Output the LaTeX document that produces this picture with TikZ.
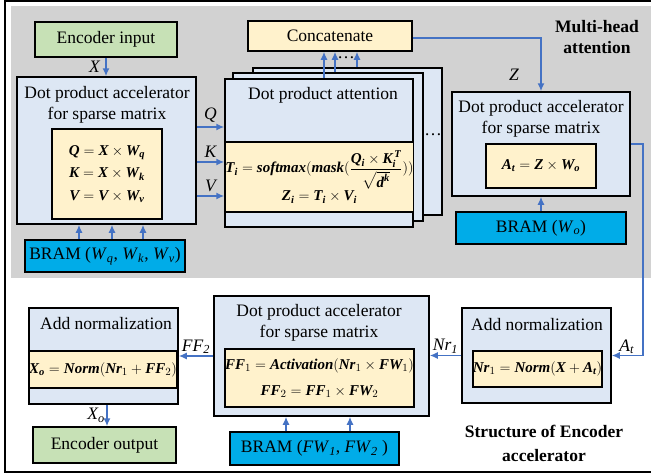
\documentclass[tikz,border=0pt]{standalone}
\usepackage{amsmath}
\usepackage{fontspec}
\setmainfont{Liberation Serif}
\usepackage{tikz}
\usetikzlibrary{arrows.meta,positioning,calc}
\definecolor{headgray}{RGB}{210,210,210}
\definecolor{iogreen}{RGB}{199,225,182}
\definecolor{unitblue}{RGB}{221,231,244}
\definecolor{eqyellow}{RGB}{255,242,204}
\definecolor{bramblue}{RGB}{0,172,232}
\definecolor{linkblue}{RGB}{68,114,196}
\newcommand{\txtsize}{\fontsize{17.5}{21}\selectfont}
\newcommand{\eqsize}{\fontsize{15}{22.5}\selectfont}
\newcommand{\mv}[1]{\text{\bfseries\itshape #1}}
\newcommand{\lv}[1]{\textit{#1}}
\tikzset{
  blk/.style={draw,line width=1.5pt,inner sep=0pt},
  iobox/.style={blk,fill=iogreen},
  unitbox/.style={blk,fill=unitblue},
  eqbox/.style={blk,fill=eqyellow,font=\eqsize,align=center},
  brambox/.style={blk,fill=bramblue},
  arr/.style={draw=linkblue,line width=1.5pt,-{Latex[length=8pt,width=7pt]}},
  lbl/.style={font=\txtsize\itshape,inner sep=1.5pt},
  ttl/.style={align=center},
}

\begin{document}
\begin{tikzpicture}[x=1pt,y=-1pt,font=\txtsize]
      \useasboundingbox (0,0) rectangle (651,474);
      \fill[headgray] (11,6) rectangle (660,278);
      \draw[line width=1.6pt] (5,1.2) rectangle (660,472);
      \node[iobox,minimum width=142pt,minimum height=35pt] (encin) at (106,39.5) {Encoder input};
      \node[unitbox,minimum width=179pt,minimum height=147pt] (dpa1) at (106.5,150.5) {};
      \node[ttl] (dpa1t) at (107,104.5) {Dot product accelerator\\for sparse matrix};
      \node[eqbox,minimum width=110pt,minimum height=90pt] (eq1) at (107,174)
        {$\mv{Q}=\mv{X}\times\mv{W}_{\mv{q}}$\\$\mv{K}=\mv{X}\times\mv{W}_{\mv{k}}$\\$\mv{V}=\mv{V}\times\mv{W}_{\mv{v}}$};
      \node[brambox,minimum width=160pt,minimum height=32pt] (bram1) at (105,256)
        {BRAM (\lv{W}\textsubscript{\lv{q}}, \lv{W}\textsubscript{\lv{k}}, \lv{W}\textsubscript{\lv{v}})};
      \node[unitbox,minimum width=189pt,minimum height=147pt] (att3) at (347.5,141.5) {};
      \node[unitbox,minimum width=190pt,minimum height=148pt] (att2) at (328,147) {};
      \node[unitbox,minimum width=188pt,minimum height=148pt] (att1) at (319,153) {};
      \node[ttl] (att1t) at (323,95) {Dot product attention};
      \node[eqbox,minimum width=183pt,minimum height=70pt] (eq2) at (319.5,177)
        {$\mv{T}_{\mv{i}}=\mv{softmax}(\mv{mask}(\dfrac{\mv{Q}_{\mv{i}}\times\mv{K}^{\,\mv{T}}_{\mv{i}}}{\sqrt{\mv{d}^{\mv{k}}}}))$\\[1pt]$\mv{Z}_{\mv{i}}=\mv{T}_{\mv{i}}\times\mv{V}_{\mv{i}}$};
      \node (dotsside) at (433,135) {\dots};
      \node[blk,fill=eqyellow,minimum width=164pt,minimum height=30pt] (concat) at (330,36) {Concatenate};
      \node (dotsup) at (346,58) {\dots};
      \node[unitbox,minimum width=178pt,minimum height=104pt] (dpa3) at (541,144) {};
      \node[ttl] (dpa3t) at (541,118.5) {Dot product accelerator\\for sparse matrix};
      \node[eqbox,minimum width=110pt,minimum height=44pt] (eq3) at (541,166)
        {$\mv{A}_{\mv{t}}=\mv{Z}\times\mv{W}_{\mv{o}}$};
      \node[brambox,minimum width=170pt,minimum height=32pt] (bram3) at (541,228)
        {BRAM (\lv{W}\textsubscript{\lv{o}})};
      \node[ttl,font=\txtsize\bfseries] (mhtitle) at (597,37.5) {Multi-head\\attention};
      \node[unitbox,minimum width=149pt,minimum height=95pt] (addnr) at (536.5,355.5) {};
      \node[ttl] (addnrt) at (537,325) {Add normalization};
      \node[eqbox,minimum width=129pt,minimum height=36pt] (eq4) at (537.5,369)
        {$\mv{Nr}_{1}=\mv{Norm}(\mv{X}+\mv{A}_{\mv{t}})$};
      \node[unitbox,minimum width=215pt,minimum height=120pt] (dpa2) at (321.5,356) {};
      \node[ttl] (dpa2t) at (319,323) {Dot product accelerator\\for sparse matrix};
      \node[eqbox,minimum width=187pt,minimum height=58pt] (eq5) at (319.5,378)
        {$\mv{FF}_{1}=\mv{Activation}(\mv{Nr}_{1}\times\mv{FW}_{1})$\\[4pt]$\mv{FF}_{2}=\mv{FF}_{1}\times\mv{FW}_{2}$};
      \node[brambox,minimum width=169pt,minimum height=33pt] (bram2) at (314.5,448.5)
        {BRAM (\lv{FW}\textsubscript{\lv{1}}, \lv{FW}\textsubscript{\lv{2}} )};
      \node[unitbox,minimum width=149pt,minimum height=96pt] (addnl) at (103.5,356) {};
      \node[ttl] (addnlt) at (106,324) {Add normalization};
      \node[eqbox,minimum width=140pt,minimum height=37pt] (eq6) at (103,369.5)
        {$\mv{X}_{\mv{o}}=\mv{Norm}(\mv{Nr}_{1}+\mv{FF}_{2})$};
      \node[iobox,minimum width=143pt,minimum height=36pt] (encout) at (104.5,445) {Encoder output};
      \node[ttl,font=\fontsize{17.5}{24}\selectfont\bfseries] (enctitle) at (544,443) {Structure of Encoder\\accelerator};
      \draw[arr] (encin.south) -- node[lbl,left,xshift=-4pt] (lx) {X} (encin.south |- dpa1.north);
      \foreach \dx in {-26,7,38}{\draw[arr] ([xshift=\dx pt]bram1.north) -- ([xshift=\dx pt]bram1.north |- dpa1.south);}
      \draw[arr] (dpa1.east |- 0,127) -- node[lbl,above,yshift=2pt] (lq) {Q} (att1.west |- 0,127);
      \draw[arr] (dpa1.east |- 0,162) -- node[lbl,above,yshift=2pt] (lk) {K} (att1.west |- 0,162);
      \draw[arr] (dpa1.east |- 0,196) -- node[lbl,above,yshift=2pt] (lv) {V} (att1.west |- 0,196);
      \draw[arr] ([xshift=5pt]att1.north) -- ([xshift=5pt]att1.north |- concat.south);
      \draw[arr] ([xshift=7pt]att2.north) -- ([xshift=7pt]att2.north |- concat.south);
      \draw[arr] ([xshift=9.5pt]att3.north) -- ([xshift=9.5pt]att3.north |- concat.south);
      \draw[arr] ([yshift=-2pt]concat.east) -| (dpa3.north);
      \node[lbl] (lz) at (514,75) {Z};
      \draw[arr] (bram3.north) -- (dpa3.south);
      \draw[arr] (dpa3.east) -- ++(12,0) |- (addnr.east);
      \node[lbl,above] (lat) at ($(addnr.east)+(15,0)$) {A\textsubscript{t}};
      \draw[arr] (addnr.west) -- node[lbl,above] (lnr) {Nr\textsubscript{1}} (addnr.west -| dpa2.east);
      \foreach \dx in {-28.5,35.5}{\draw[arr] ([xshift=\dx pt]bram2.north) -- ([xshift=\dx pt]bram2.north |- dpa2.south);}
      \draw[arr] (dpa2.west) -- node[lbl,above] (lff) {FF\textsubscript{2}} (addnl.east);
      \draw[arr] ([xshift=3.5pt]addnl.south) -- node[lbl,left] (lxo) {X\textsubscript{o}} ([xshift=3.5pt]addnl.south |- encout.north);
\end{tikzpicture}
\end{document}
